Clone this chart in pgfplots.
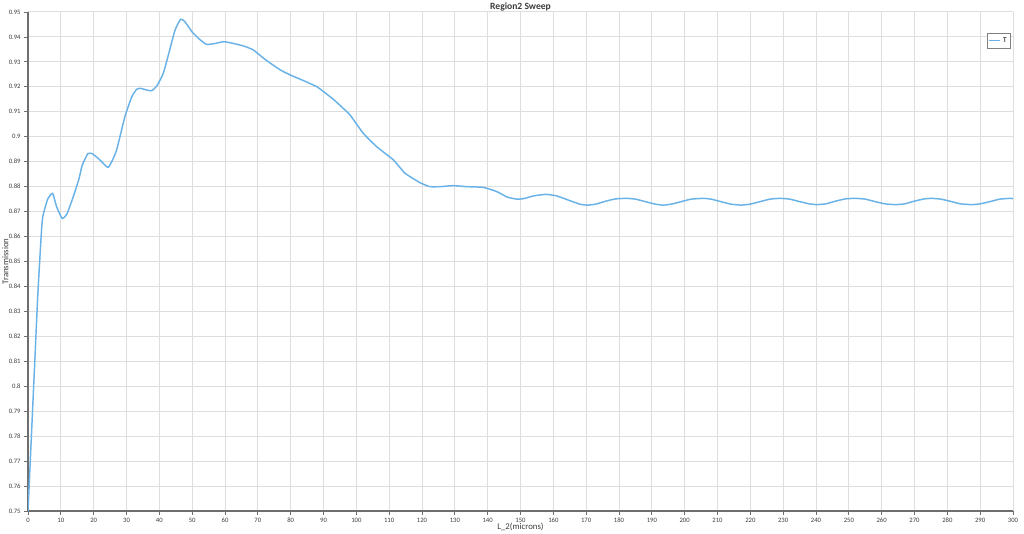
\documentclass[border=0pt]{standalone}
\usepackage{fontspec}
\setmainfont{Carlito}
\usepackage{pgfplots}
\pgfplotsset{compat=1.18}
\definecolor{linec}{RGB}{104,178,232}
\definecolor{gridc}{RGB}{222,222,222}
\definecolor{axc}{RGB}{110,110,110}
\definecolor{txt}{RGB}{60,60,60}
\begin{document}
\begin{tikzpicture}
\begin{axis}[
  scale only axis, width=738.75pt, height=374.25pt,
  xmin=0, xmax=300, ymin=0.75, ymax=0.95,
  xtick distance=10, ytick distance=0.01,
  grid=major, major grid style={gridc, line width=0.75pt},
  axis x line*=bottom, axis y line*=left,
  axis line style={-, axc, line width=0.9pt},
  tick align=outside, major tick length=3pt,
  tick style={axc, line width=0.6pt},
  /pgf/number format/assume math mode=true,
  ticklabel style={font=\fontsize{5}{6}\selectfont, text=txt},
  y tick label style={xshift=1pt, /pgf/number format/.cd, fixed, precision=2},
  x tick label style={yshift=1pt, /pgf/number format/.cd, fixed, precision=0},
  title={Region2 Sweep},
  title style={font=\bfseries\fontsize{7.2}{8}\selectfont, text=txt, at={(axis description cs:0.5,1)}, anchor=center, yshift=-1.9pt},
  xlabel={L\_2(microns)},
  ylabel={Transmission},
  label style={font=\fontsize{6.6}{7}\selectfont, text=txt},
  xlabel style={at={(axis description cs:0.5,0)}, anchor=center, yshift=-12pt},
  ylabel style={at={(axis description cs:-0.0229,0.5)}, anchor=center},
  legend style={at={(0.998,0.958)}, anchor=north east, draw=gray, line width=0.6pt,
    font=\fontsize{5.5}{6}\selectfont, inner sep=1pt, row sep=0pt},
  legend image code/.code={\draw[#1, line width=1.1pt] (0pt,0pt) -- (8pt,0pt);},
]
\addplot[linec, line width=1.1pt, smooth, tension=0.3] coordinates {
(0,0.750) (1,0.779) (2,0.808) (3,0.837) (4,0.860) (4.5,0.868) (6,0.8750) (7.5,0.8773)
(8.7,0.8720) (10.4,0.8673) (11.8,0.8689) (13.8,0.8760) (15.5,0.8830) (16.5,0.8885)
(18.2,0.8932) (19.6,0.8932) (21.9,0.8907) (23.8,0.8882) (24.5,0.8878) (25.5,0.8900)
(27,0.8947) (29.5,0.9080) (31.6,0.9160) (33.1,0.9190) (34.3,0.9194) (36.2,0.9187)
(37.7,0.9185) (39.2,0.9203) (41.2,0.9254) (43,0.9340) (44.8,0.9428) (46.5,0.9471)
(47.8,0.9461) (50,0.9420) (52.3,0.9390) (54.4,0.9370) (57,0.9374) (59.7,0.9381)
(62.5,0.9374) (65.6,0.9364) (68.6,0.9348) (72.2,0.9310) (76.8,0.9268) (79.8,0.9248)
(83.9,0.9225) (87.9,0.9201) (90,0.9181) (93,0.9150) (96,0.9114) (98.1,0.9087)
(102.1,0.9014) (106.2,0.8960) (111.3,0.8907) (114.8,0.8854) (119.4,0.8816)
(122.4,0.8800) (125.5,0.8800) (129.5,0.8804) (133.6,0.8800) (138.7,0.8797)
(142.8,0.8780) (146,0.8758) (148.9,0.8750) (151,0.8752) (154,0.8763) (157.7,0.8769)
(161,0.8763) (165,0.8744) (168,0.8730) (170.2,0.8726) (173,0.8730) (176,0.8742)
(179,0.8751) (182.4,0.8753) (185,0.8750) (188,0.8740) (191,0.8730) (193.5,0.8726)
(196,0.8730) (199,0.8740) (202,0.8750) (205.7,0.8753) (208,0.8750) (211,0.8740)
(214,0.8730) (217.2,0.8726) (220,0.8730) (223,0.8740) (226,0.8750) (229,0.8753)
(232,0.8750) (235,0.8740) (238,0.8731) (240.2,0.8728) (243,0.8731) (246,0.8742)
(249,0.8751) (251.9,0.8753) (255,0.8750) (258,0.8740) (261,0.8731) (264.1,0.8728)
(267,0.8731) (270,0.8742) (273,0.8751) (275.3,0.8753) (278,0.8750) (281,0.8741)
(284,0.8731) (287.4,0.8728) (290,0.8731) (293,0.8740) (296,0.8750) (299,0.8753)
(300,0.8752)
};
\addlegendentry{T}
\end{axis}
\pgfresetboundingbox
\path[use as bounding box] ([xshift=-21pt,yshift=-17.25pt]current axis.south west) rectangle ([xshift=8.25pt,yshift=9pt]current axis.north east);
\end{tikzpicture}
\end{document}
